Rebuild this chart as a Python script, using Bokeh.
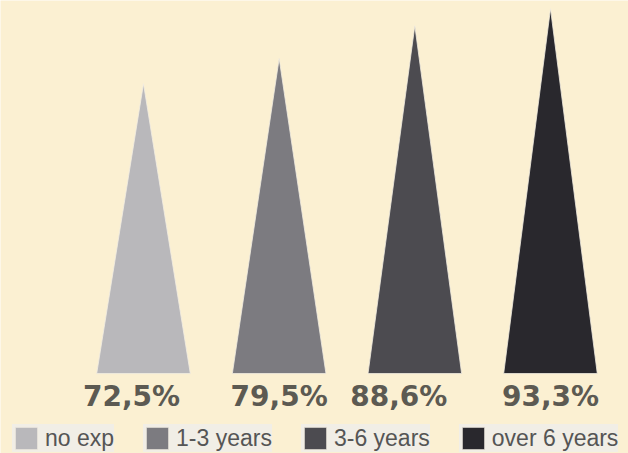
from bokeh.plotting import figure
from bokeh.models import ColumnDataSource, Range1d, Legend, LegendItem
from bokeh.core.properties import value
from bokeh.embed import file_html
from bokeh.resources import INLINE

# ---- data ----
categories = ["no exp", "1-3 years", "3-6 years", "over 6 years"]
values = [72.5, 79.5, 88.6, 93.3]
labels = ["72,5%", "79,5%", "88,6%", "93,3%"]
colors = ["#b9b8bb", "#7c7b80", "#4c4b50", "#29282d"]

# ---- styling ----
BG = "#fbf0d2"
BASE = -8.0          # value at the triangle bases
HALF_W = 0.345       # half width of each triangle (x units)
label_dx = [-12, 0, -16, 0]   # small horizontal shifts of value labels (px)

xs, ys = [], []
for i, v in enumerate(values):
    xs.append([i - HALF_W, i, i + HALF_W])
    ys.append([BASE, v, BASE])

src = ColumnDataSource(dict(xs=xs, ys=ys, color=colors, cat=categories))
lab_src = ColumnDataSource(dict(x=list(range(len(values))), y=[BASE] * len(values),
                                text=labels, dx=label_dx))

p = figure(width=628, height=453, output_backend="svg", toolbar_location=None,
           x_range=Range1d(-1.054, 3.575), y_range=Range1d(-30.2, 95.6),
           min_border=0, background_fill_color=BG, border_fill_color=BG,
           outline_line_color=None)
p.axis.visible = False
p.grid.visible = False

r = p.patches("xs", "ys", source=src, fill_color="color", line_color="#f3eee2",
              line_width=0.8)

p.text(x="x", y="y", text="text", source=lab_src, x_offset="dx", y_offset=6,
       text_align="center", text_baseline="top",
       text_font=value("DejaVu Sans"), text_font_style="bold",
       text_font_size="28px", text_color="#5c5a52")

items = [LegendItem(label=c, renderers=[r], index=i) for i, c in enumerate(categories)]
legend = Legend(items=items, orientation="horizontal", location=(12, 1),
                glyph_width=28, glyph_height=28, label_standoff=5, spacing=29,
                padding=0, margin=0, border_line_color=None,
                background_fill_alpha=0,
                label_text_font="Liberation Sans", label_text_font_size="23px",
                label_text_color="#555555", label_height=28)
try:
    legend.item_background_policy = "every"
    legend.item_background_fill_color = "#efeeeb"
except Exception:
    pass
p.add_layout(legend)

open("out.html", "w").write(file_html(p, INLINE))
